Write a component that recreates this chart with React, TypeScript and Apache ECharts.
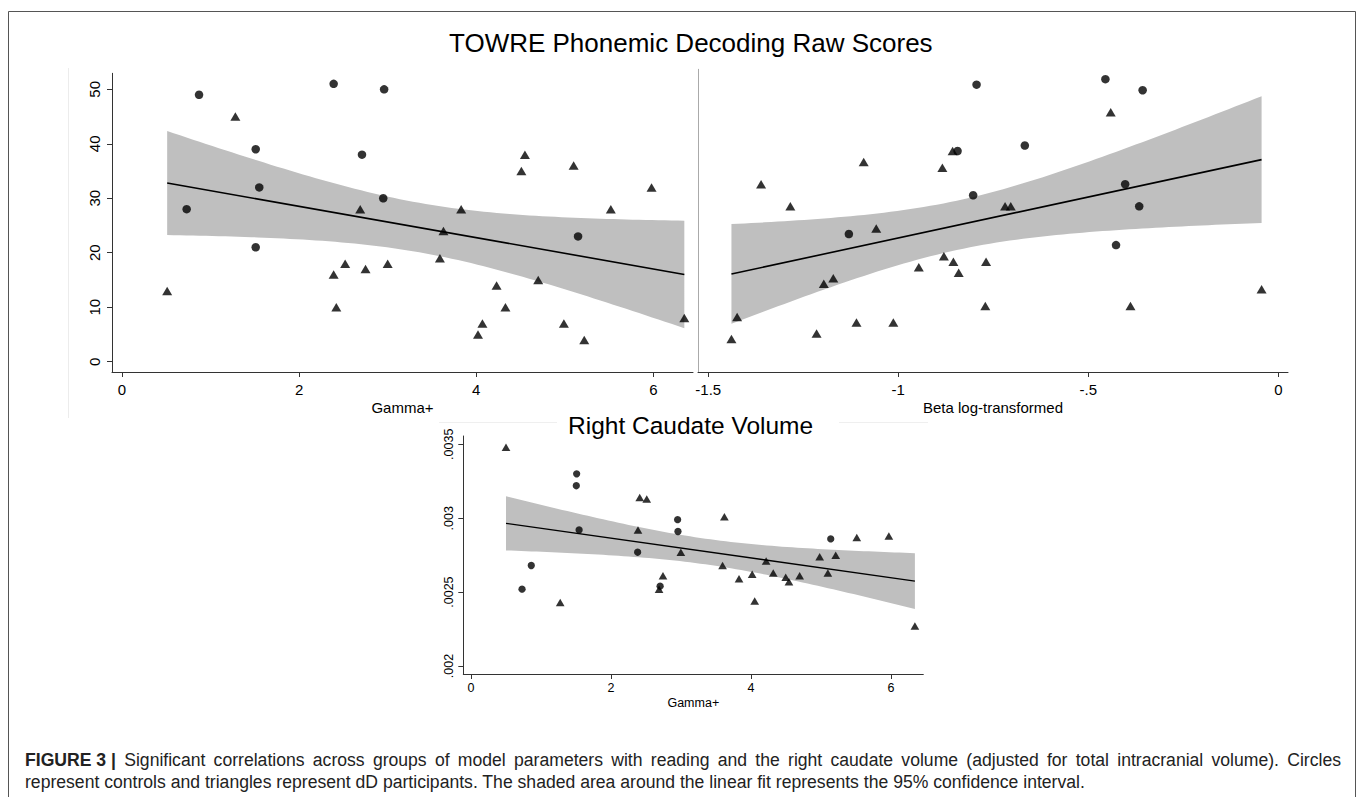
import React, { useEffect, useRef } from "react";
import * as echarts from "echarts";

// ---------- Data ----------
// Panel A: TOWRE Phonemic Decoding raw score vs Gamma+
const aCtrlX = [0.73, 0.87, 1.51, 1.51, 1.55, 2.39, 2.71, 2.95, 2.96, 5.15];
const aCtrlY = [28, 49, 39, 21, 32, 51, 38, 30, 50, 23];
const aDdX = [0.51, 1.28, 2.39, 2.42, 2.52, 2.69, 2.75, 3.0, 3.59, 3.63, 3.83, 4.02, 4.07, 4.23, 4.33, 4.51, 4.55, 4.7, 4.99, 5.1, 5.22, 5.52, 5.98, 6.35];
const aDdY = [13, 45, 16, 10, 18, 28, 17, 18, 19, 24, 28, 5, 7, 14, 10, 35, 38, 15, 7, 36, 4, 28, 32, 8];

// Panel B: TOWRE Phonemic Decoding raw score vs Beta (log-transformed)
const bCtrlX = [-1.13, -0.844, -0.803, -0.794, -0.667, -0.455, -0.427, -0.403, -0.366, -0.357];
const bCtrlY = [23, 38, 30, 50, 39, 51, 21, 32, 28, 49];
const bDdX = [-1.439, -1.424, -1.361, -1.284, -1.215, -1.196, -1.171, -1.11, -1.091, -1.058, -1.013, -0.946, -0.884, -0.88, -0.857, -0.855, -0.841, -0.771, -0.769, -0.719, -0.704, -0.441, -0.389, -0.044];
const bDdY = [4, 8, 32, 28, 5, 14, 15, 7, 36, 24, 7, 17, 35, 19, 38, 18, 16, 10, 18, 28, 28, 45, 10, 13];

// Panel C: Right caudate volume vs Gamma+
const cCtrlX = [0.729, 0.861, 1.504, 1.509, 1.544, 2.38, 2.701, 2.951, 2.956, 5.138];
const cCtrlY = [0.00252, 0.00268, 0.00322, 0.0033, 0.00292, 0.00277, 0.00254, 0.00299, 0.00291, 0.00286];
const cDdX = [0.5, 1.274, 2.385, 2.41, 2.51, 2.686, 2.742, 2.997, 3.593, 3.619, 3.828, 4.016, 4.052, 4.215, 4.317, 4.495, 4.541, 4.694, 4.98, 5.097, 5.209, 5.51, 5.968, 6.34];
const cDdY = [0.00348, 0.00243, 0.00292, 0.00314, 0.00313, 0.00252, 0.00261, 0.00277, 0.00268, 0.00301, 0.00259, 0.00262, 0.00244, 0.00271, 0.00263, 0.0026, 0.00257, 0.00261, 0.00274, 0.00263, 0.00275, 0.00287, 0.00288, 0.00227];

// Tick values
const gammaTicks = [0, 2, 4, 6];
const towreTicks = [0, 10, 20, 30, 40, 50];
const betaTicks = [-1.5, -1, -0.5, 0];
const caudateTicks = [0.002, 0.0025, 0.003, 0.0035];

// Texts
const mainTitle = "TOWRE Phonemic Decoding Raw Scores";
const subTitle = "Right Caudate Volume";
const captionBold = "FIGURE 3 |";
const captionLine1 =
  "Significant correlations across groups of model parameters with reading and the right caudate volume (adjusted for total intracranial volume). Circles";
const captionLine2 =
  "represent controls and triangles represent dD participants. The shaded area around the linear fit represents the 95% confidence interval.";

const T_975_DF32 = 2.0369; // Student t quantile, n - 2 = 32 degrees of freedom

// ---------- Helpers ----------
function linearFit(xs: number[], ys: number[], steps: number) {
  const n = xs.length;
  const mx = xs.reduce((s, v) => s + v, 0) / n;
  const my = ys.reduce((s, v) => s + v, 0) / n;
  let sxx = 0;
  let sxy = 0;
  for (let i = 0; i < n; i++) {
    sxx += (xs[i] - mx) * (xs[i] - mx);
    sxy += (xs[i] - mx) * (ys[i] - my);
  }
  const b = sxy / sxx;
  const a = my - b * mx;
  let sse = 0;
  for (let i = 0; i < n; i++) {
    const r = ys[i] - (a + b * xs[i]);
    sse += r * r;
  }
  const s2 = sse / (n - 2);
  const x0 = Math.min(...xs);
  const x1 = Math.max(...xs);
  const band: number[][] = [];
  for (let i = 0; i <= steps; i++) {
    const x = x0 + ((x1 - x0) * i) / steps;
    const yh = a + b * x;
    const se = Math.sqrt(s2 * (1 / n + ((x - mx) * (x - mx)) / sxx));
    band.push([x, yh - T_975_DF32 * se, yh + T_975_DF32 * se]);
  }
  const line = [
    [x0, a + b * x0],
    [x1, a + b * x1],
  ];
  return { band, line };
}

function stataLabel(v: number) {
  const s = String(+v.toFixed(6));
  return s.replace(/^(-?)0\./, "$1.");
}

const FONT = "'Liberation Sans', Arial, Helvetica, sans-serif";
const AXIS_COLOR = "#333";
const BAND_COLOR = "#bfbfbf";

function zip(xs: number[], ys: number[]) {
  return xs.map((x, i) => [x, ys[i]]);
}

function panelSeries(
  idx: number,
  ctrlX: number[],
  ctrlY: number[],
  ddX: number[],
  ddY: number[],
  circleSize: number,
  triSize: number[],
  lineWidth: number
) {
  const allX = ctrlX.concat(ddX);
  const allY = ctrlY.concat(ddY);
  const fit = linearFit(allX, allY, 80);
  const band = fit.band;
  return [
    {
      type: "custom",
      xAxisIndex: idx,
      yAxisIndex: idx,
      data: band,
      encode: { x: 0, y: [1, 2] },
      silent: true,
      z: 1,
      renderItem: (params: any, api: any) => {
        if (params.dataIndex !== 0) return null;
        const pts: number[][] = [];
        for (let i = 0; i < band.length; i++) pts.push(api.coord([band[i][0], band[i][2]]));
        for (let i = band.length - 1; i >= 0; i--) pts.push(api.coord([band[i][0], band[i][1]]));
        return {
          type: "polygon",
          shape: { points: pts },
          style: { fill: BAND_COLOR, stroke: "none" },
        };
      },
    },
    {
      type: "line",
      xAxisIndex: idx,
      yAxisIndex: idx,
      data: fit.line,
      symbol: "none",
      lineStyle: { color: "#000", width: lineWidth },
      silent: true,
      z: 2,
    },
    {
      type: "scatter",
      xAxisIndex: idx,
      yAxisIndex: idx,
      data: zip(ctrlX, ctrlY),
      symbol: "circle",
      symbolSize: circleSize,
      itemStyle: { color: "#000" },
      z: 3,
    },
    {
      type: "scatter",
      xAxisIndex: idx,
      yAxisIndex: idx,
      data: zip(ddX, ddY),
      symbol: "triangle",
      symbolSize: triSize,
      itemStyle: { color: "#000" },
      z: 3,
    },
  ];
}

function xAxisCfg(
  idx: number,
  min: number,
  max: number,
  ticks: number[],
  name: string,
  fontSize: number,
  nameGap: number,
  labelMargin: number
) {
  return {
    type: "value",
    gridIndex: idx,
    min,
    max,
    name,
    nameLocation: "middle",
    nameGap,
    nameTextStyle: { fontFamily: FONT, fontSize, color: "#000" },
    axisLine: { show: true, onZero: false, lineStyle: { color: AXIS_COLOR, width: 1 } },
    axisTick: { show: true, length: 5, customValues: ticks, lineStyle: { color: AXIS_COLOR } },
    axisLabel: {
      show: true,
      customValues: ticks,
      formatter: (v: number) => stataLabel(v),
      fontFamily: FONT,
      fontSize,
      color: "#000",
      margin: labelMargin,
    },
    splitLine: { show: false },
  };
}

function yAxisCfg(
  idx: number,
  min: number,
  max: number,
  ticks: number[],
  fontSize: number,
  labelMargin: number,
  showLabels: boolean,
  lineColor: string
) {
  return {
    type: "value",
    gridIndex: idx,
    min,
    max,
    axisLine: { show: true, onZero: false, lineStyle: { color: lineColor, width: 1 } },
    axisTick: { show: showLabels, length: 5, customValues: ticks, lineStyle: { color: AXIS_COLOR } },
    axisLabel: {
      show: showLabels,
      customValues: ticks,
      rotate: 90,
      formatter: (v: number) => stataLabel(v),
      fontFamily: FONT,
      fontSize,
      color: "#000",
      margin: labelMargin,
    },
    splitLine: { show: false },
  };
}

const CAPTION_SIZE = 17.6;
const CAPTION_LEFT = 25;
const CAPTION_RIGHT = 1341;

function captionElements() {
  const canvas = document.createElement("canvas");
  const ctx = canvas.getContext("2d") as CanvasRenderingContext2D;
  const regFont = `${CAPTION_SIZE}px 'Liberation Sans'`;
  const boldFont = `bold ${CAPTION_SIZE}px 'Liberation Sans'`;
  const tokens = [{ text: captionBold, bold: true }].concat(
    captionLine1.split(" ").map((w) => ({ text: w, bold: false }))
  );
  const widths = tokens.map((t) => {
    ctx.font = t.bold ? boldFont : regFont;
    return ctx.measureText(t.text).width;
  });
  const total = widths.reduce((s, v) => s + v, 0);
  const gap = (CAPTION_RIGHT - CAPTION_LEFT - total) / (tokens.length - 1);
  const els: any[] = [];
  let x = CAPTION_LEFT;
  tokens.forEach((t, i) => {
    els.push({
      type: "text",
      x,
      y: 760,
      silent: true,
      style: {
        text: t.text,
        fontFamily: FONT,
        fontSize: CAPTION_SIZE,
        fontWeight: t.bold ? "bold" : "normal",
        fill: "#222",
        align: "left",
        verticalAlign: "middle",
      },
    });
    x += widths[i] + gap;
  });
  els.push({
    type: "text",
    x: CAPTION_LEFT,
    y: 782,
    silent: true,
    style: {
      text: captionLine2,
      fontFamily: FONT,
      fontSize: CAPTION_SIZE,
      fill: "#222",
      align: "left",
      verticalAlign: "middle",
    },
  });
  return els;
}

export default function App() {
  const ref = useRef<HTMLDivElement>(null);

  useEffect(() => {
    if (!ref.current) return;
    const chart = echarts.init(ref.current, undefined, { renderer: "svg" });

    const option = {
      animation: false,
      backgroundColor: "#fff",
      grid: [
        { left: 112, top: 73.3, width: 581, height: 298.7, outerBoundsMode: "none", containLabel: false },
        { left: 698, top: 69.3, width: 590, height: 302.7, outerBoundsMode: "none", containLabel: false },
        { left: 463.3, top: 436, width: 460, height: 238, outerBoundsMode: "none", containLabel: false },
      ],
      xAxis: [
        xAxisCfg(0, -0.113, 6.448, gammaTicks, "Gamma+", 15, 28, 10),
        xAxisCfg(1, -1.527, 0.0255, betaTicks, "Beta log-transformed", 15, 28, 10),
        xAxisCfg(2, -0.11, 6.46, gammaTicks, "Gamma+", 12.5, 22, 7),
      ],
      yAxis: [
        yAxisCfg(0, -1.89, 52.94, towreTicks, 15, 10, true, AXIS_COLOR),
        yAxisCfg(1, -1.95, 52.78, towreTicks, 15, 10, false, "#aaa"),
        yAxisCfg(2, 0.0019459, 0.0035562, caudateTicks, 12.5, 8, true, AXIS_COLOR),
      ],
      series: [
        ...panelSeries(0, aCtrlX, aCtrlY, aDdX, aDdY, 8.5, [10, 8.5], 1.6),
        ...panelSeries(1, bCtrlX, bCtrlY, bDdX, bDdY, 8.5, [10, 8.5], 1.6),
        ...panelSeries(2, cCtrlX, cCtrlY, cDdX, cDdY, 7.3, [8.7, 7.5], 1.3),
      ],
      graphic: [
        {
          type: "rect",
          shape: { x: 8.5, y: 11.5, width: 1347, height: 800 },
          style: { fill: "none", stroke: "#555", lineWidth: 1 },
          silent: true,
        },
        {
          type: "line",
          shape: { x1: 68.5, y1: 68, x2: 68.5, y2: 418 },
          style: { stroke: "#ececec", lineWidth: 1 },
          silent: true,
        },
        {
          type: "line",
          shape: { x1: 439, y1: 422.5, x2: 557, y2: 422.5 },
          style: { stroke: "#efefef", lineWidth: 1 },
          silent: true,
        },
        {
          type: "line",
          shape: { x1: 839, y1: 422.5, x2: 928, y2: 422.5 },
          style: { stroke: "#efefef", lineWidth: 1 },
          silent: true,
        },
        {
          type: "text",
          x: 449,
          y: 43,
          style: {
            text: mainTitle,
            fontFamily: FONT,
            fontSize: 26,
            fill: "#000",
            align: "left",
            verticalAlign: "middle",
          },
          silent: true,
        },
        {
          type: "text",
          x: 568,
          y: 425,
          style: {
            text: subTitle,
            fontFamily: FONT,
            fontSize: 24.5,
            fill: "#000",
            align: "left",
            verticalAlign: "middle",
          },
          silent: true,
        },
        ...captionElements(),
      ],
    };

    chart.setOption(option as any);
    return () => {
      chart.dispose();
    };
  }, []);

  return (
    <div
      ref={ref}
      style={{ position: "fixed", left: 0, top: 0, width: 1358, height: 797, background: "#fff" }}
    />
  );
}
